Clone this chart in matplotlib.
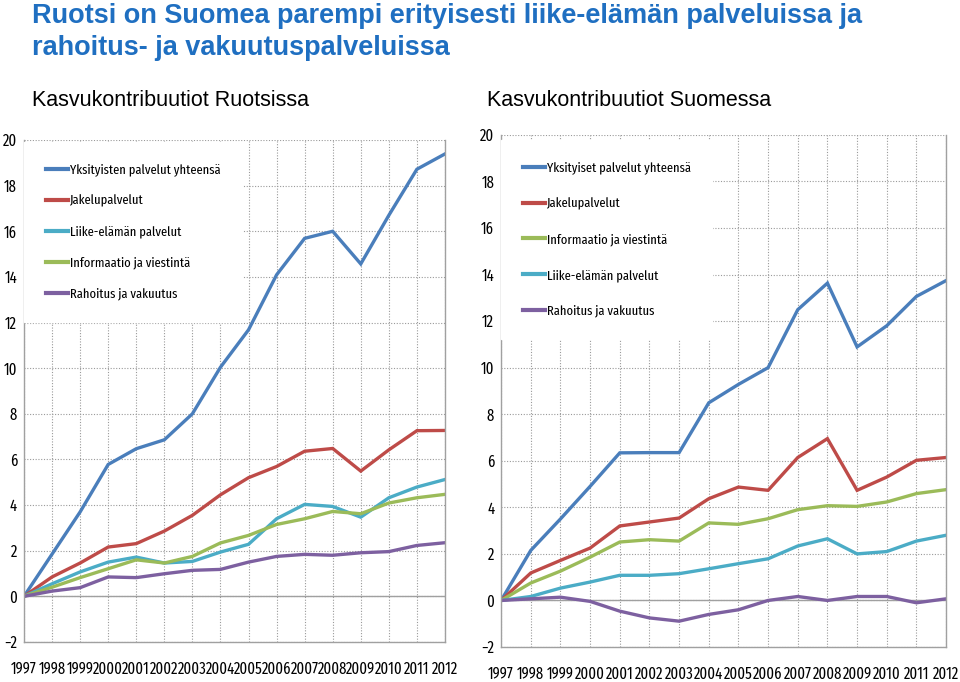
import matplotlib
matplotlib.use("Agg")
import matplotlib.pyplot as plt

NARROW = ["Fira Sans Extra Condensed", "DejaVu Sans"]
ARIAL = ["Liberation Sans", "DejaVu Sans"]

years = list(range(1997, 2013))

# Ruotsi (Sweden)
se_total = [0, 1.85, 3.7, 5.78, 6.47, 6.86, 8.0, 10.04, 11.68, 14.09, 15.69, 16.0, 14.57, 16.7, 18.72, 19.39]
se_jakelu = [0, 0.85, 1.46, 2.16, 2.31, 2.86, 3.55, 4.45, 5.2, 5.69, 6.36, 6.48, 5.49, 6.42, 7.26, 7.27]
se_liike = [0, 0.55, 1.07, 1.5, 1.72, 1.46, 1.53, 1.94, 2.28, 3.4, 4.03, 3.94, 3.47, 4.32, 4.79, 5.12]
se_info = [0, 0.4, 0.82, 1.21, 1.6, 1.46, 1.75, 2.34, 2.67, 3.15, 3.4, 3.72, 3.62, 4.09, 4.32, 4.47]
se_rahoitus = [0, 0.23, 0.38, 0.85, 0.82, 0.99, 1.14, 1.18, 1.5, 1.75, 1.84, 1.8, 1.91, 1.96, 2.23, 2.35]

# Suomi (Finland)
fi_total = [0, 2.15, 3.5, 4.9, 6.34, 6.35, 6.35, 8.49, 9.28, 10.0, 12.49, 13.63, 10.89, 11.8, 13.06, 13.74]
fi_jakelu = [0, 1.18, 1.72, 2.25, 3.2, 3.37, 3.54, 4.37, 4.87, 4.73, 6.14, 6.95, 4.73, 5.3, 6.02, 6.14]
fi_info = [0, 0.75, 1.26, 1.86, 2.51, 2.61, 2.55, 3.33, 3.27, 3.51, 3.9, 4.07, 4.04, 4.23, 4.59, 4.76]
fi_liike = [0, 0.17, 0.53, 0.79, 1.08, 1.08, 1.15, 1.36, 1.58, 1.79, 2.34, 2.65, 2.0, 2.1, 2.55, 2.8]
fi_rahoitus = [0, 0.07, 0.14, -0.04, -0.46, -0.75, -0.89, -0.6, -0.4, 0.0, 0.17, 0.0, 0.17, 0.17, -0.1, 0.07]

BLUE = "#4A7EBB"
RED = "#BE4B48"
CYAN = "#4BACC6"
GREEN = "#9BBB59"
PURPLE = "#7D60A0"

left_series = [
    ("Yksityisten palvelut yhteensä", se_total, BLUE),
    ("Jakelupalvelut", se_jakelu, RED),
    ("Liike-elämän palvelut", se_liike, CYAN),
    ("Informaatio ja viestintä", se_info, GREEN),
    ("Rahoitus ja vakuutus", se_rahoitus, PURPLE),
]
right_series = [
    ("Yksityiset palvelut yhteensä", fi_total, BLUE),
    ("Jakelupalvelut", fi_jakelu, RED),
    ("Informaatio ja viestintä", fi_info, GREEN),
    ("Liike-elämän palvelut", fi_liike, CYAN),
    ("Rahoitus ja vakuutus", fi_rahoitus, PURPLE),
]

fig = plt.figure(figsize=(9.6, 6.82), dpi=100)
fig.patch.set_facecolor("white")

fig.text(0.033, 0.996, "Ruotsi on Suomea parempi erityisesti liike-elämän palveluissa ja\nrahoitus- ja vakuutuspalveluissa",
         ha="left", va="top", fontsize=19.5, fontweight="bold", color="#1F6FC1",
         family=ARIAL, linespacing=1.32)
fig.text(0.033, 0.852, "Kasvukontribuutiot Ruotsissa", ha="left", va="center",
         fontsize=15.5, family=ARIAL, color="black")
fig.text(0.507, 0.852, "Kasvukontribuutiot Suomessa", ha="left", va="center",
         fontsize=15.5, family=ARIAL, color="black")


def draw(ax, series, labelspacing, anchor_y):
    for name, vals, col in series:
        ax.plot(years, vals, color=col, lw=2.4, label=name, solid_joinstyle="miter")
    ax.set_xlim(1997, 2012)
    ax.set_ylim(-2, 20)
    ax.set_yticks(range(-2, 21, 2))
    ax.set_xticks(years)
    ax.grid(True, color="#9a9a9a", ls=(0, (1, 1.5)), lw=0.8)
    ax.set_axisbelow(True)
    ax.axhline(0, color="#a0a0a0", lw=1.0, zorder=1)
    for s in ["left", "bottom", "right"]:
        ax.spines[s].set_color("#a0a0a0")
        ax.spines[s].set_linewidth(1.0)
    ax.spines["top"].set_visible(False)
    ax.tick_params(axis="both", length=0, labelsize=11.5)
    ax.tick_params(axis="y", pad=5)
    ax.tick_params(axis="x", pad=14)
    for lab in ax.get_xticklabels() + ax.get_yticklabels():
        lab.set_family(NARROW)
    leg = ax.legend(loc="upper left", bbox_to_anchor=(0.0, anchor_y), frameon=True,
                    fancybox=False, edgecolor="white", facecolor="white", framealpha=1,
                    prop={"family": NARROW, "size": 9.8}, handlelength=1.6,
                    handletextpad=0.15, labelspacing=labelspacing, borderpad=1.6,
                    borderaxespad=0.0)
    for line in leg.get_lines():
        line.set_linewidth(3)
    return ax


ax1 = fig.add_axes([0.025, 0.0587, 0.4385, 0.736])
draw(ax1, left_series, 1.36, 0.997)
ax2 = fig.add_axes([0.522, 0.0513, 0.4635, 0.751])
draw(ax2, right_series, 1.7, 0.99)

fig.savefig("out.png", dpi=100)
